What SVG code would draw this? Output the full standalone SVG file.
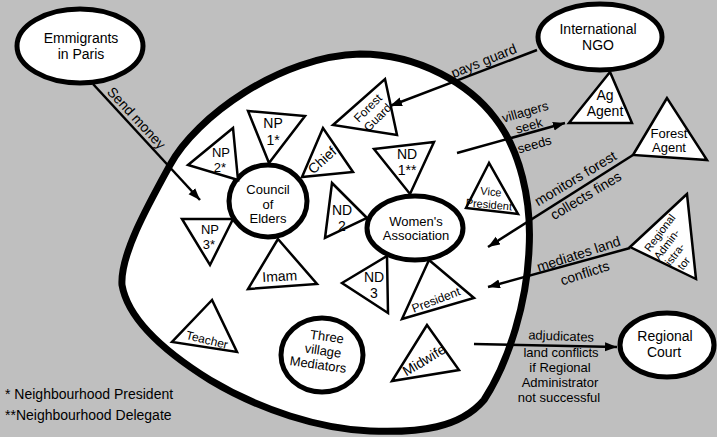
<svg xmlns="http://www.w3.org/2000/svg" width="717" height="437" viewBox="0 0 717 437">
<defs>
<marker id="ah" markerUnits="userSpaceOnUse" markerWidth="13" markerHeight="10" refX="12" refY="4.5" orient="auto">
<path d="M0,0 L12,4.5 L0,9 Z" fill="#000"/>
</marker>
</defs>
<style>
.t{font-family:"Liberation Sans",Arial,sans-serif;font-size:14px;text-anchor:middle;fill:#000}
.m{font-size:13px}
.s{font-size:12px}
.xs{font-size:11px}
.e{fill:#fff;stroke:#000;stroke-width:5}
.tri{fill:#fff;stroke:#000;stroke-width:2.5;stroke-linejoin:miter}
.c{fill:none;stroke:#000;stroke-width:2.5}
.n{font-family:"Liberation Sans",Arial,sans-serif;font-size:14px;fill:#000}
</style>
<rect width="717" height="437" fill="#bfbfbf"/>

<g id="village">
<path d="M360,54 C420,54 470,85 495,118 C520,150 532,200 529,250 C527,300 510,360 484,400 C460,428 420,433 370,431 C320,429 260,410 210,380 C165,352 128,320 122,285 C120,255 148,205 170,165 C196,117 280,56 360,54 Z" fill="#fff" stroke="#000" stroke-width="7"/>
</g>

<g id="connectors">
<line class="c" x1="93" y1="84" x2="200" y2="200" marker-end="url(#ah)"/>
<line class="c" x1="537" y1="50" x2="390" y2="106" marker-end="url(#ah)"/>
<line class="c" x1="457" y1="153" x2="565" y2="123" marker-end="url(#ah)"/>
<line class="c" x1="633" y1="155" x2="488" y2="247" marker-end="url(#ah)"/>
<line class="c" x1="630" y1="248" x2="488" y2="287" marker-end="url(#ah)"/>
<line class="c" x1="474" y1="344" x2="617" y2="347" marker-end="url(#ah)"/>
<text class="t" transform="translate(130,124) rotate(47.3)" y="-4">Send money</text>
<text class="t" transform="translate(487,69) rotate(-22)" y="-4">pays guard</text>
<g transform="translate(531,132.4) rotate(-16)">
<text class="t m" y="-17">villagers</text>
<text class="t m" y="-2.5">seek</text>
<text class="t m" y="17">seeds</text>
</g>
<g transform="translate(580,186) rotate(-31)">
<text class="t" y="-4">monitors forest</text>
<text class="t" y="16">collects fines</text>
</g>
<g transform="translate(581,261.5) rotate(-18)">
<text class="t" y="-3">mediates land</text>
<text class="t" y="17">conflicts</text>
</g>
<text class="t m" transform="translate(561,340.5) rotate(2)">adjudicates</text>
<text class="t m" x="561" y="357">land conflicts</text>
<text class="t m" x="560" y="372">if Regional</text>
<text class="t m" x="560" y="387">Administrator</text>
<text class="t m" x="559" y="402">not successful</text>
</g>

<g id="emmigrants">
<ellipse class="e" cx="80" cy="46" rx="63" ry="37"/>
<text class="t" x="81" y="42.5">Emmigrants</text>
<text class="t" x="81" y="58.5">in Paris</text>
</g>
<g id="ngo">
<ellipse class="e" cx="600" cy="37" rx="62" ry="33"/>
<text class="t" x="598" y="34">International</text>
<text class="t" x="598" y="50">NGO</text>
</g>
<g id="court">
<ellipse class="e" cx="667" cy="345" rx="47" ry="32"/>
<text class="t" x="665" y="341">Regional</text>
<text class="t" x="664" y="357">Court</text>
</g>

<g id="ag-agent">
<polygon class="tri" points="610,72 569,123 632,123"/>
<text class="t" x="605" y="100">Ag</text>
<text class="t" x="605" y="116">Agent</text>
</g>
<g id="forest-agent">
<polygon class="tri" points="667,98 633,155 707,160"/>
<text class="t m" x="669" y="137.5">Forest</text>
<text class="t m" x="669" y="152">Agent</text>
</g>
<g id="regional-admin">
<polygon class="tri" points="687,194 630,247 696,279"/>
<g transform="translate(660,233) rotate(-53)">
<text class="t xs" x="0" y="3.5">Regional</text>
<text class="t xs" x="-5" y="16">Admin-</text>
<text class="t xs" x="-8" y="28.5">istra-</text>
<text class="t xs" x="-10" y="41">tor</text>
</g>
</g>

<g id="council">
<ellipse class="e" cx="268" cy="201" rx="39" ry="36"/>
<text class="t m" x="268" y="194">Council</text>
<text class="t m" x="268" y="208.5">of</text>
<text class="t m" x="268" y="223">Elders</text>
</g>
<g id="np1">
<polygon class="tri" points="248,111 305,116 269,163"/>
<text class="t" x="273" y="128">NP</text>
<text class="t" x="273" y="145">1*</text>
</g>
<g id="np2">
<polygon class="tri" points="188,165 233,128 238,180"/>
<text class="t m" x="221" y="157">NP</text>
<text class="t m" x="220" y="172">2*</text>
</g>
<g id="np3">
<polygon class="tri" points="182,219 233,219 210,265"/>
<text class="t m" x="210" y="234">NP</text>
<text class="t m" x="209" y="249">3*</text>
</g>
<g id="chief">
<polygon class="tri" points="323,128 302,177 353,172"/>
<text class="t" transform="translate(322,160) rotate(-42)" y="5">Chief</text>
</g>
<g id="imam">
<polygon class="tri" points="278,239 248,289 317,284"/>
<text class="t" transform="translate(280,281) rotate(-3)">Imam</text>
</g>
<g id="teacher">
<polygon class="tri" points="212,300 172,342 237,352"/>
<text class="t s" transform="translate(207,340) rotate(14)" y="4">Teacher</text>
</g>
<g id="mediators">
<ellipse class="e" cx="322" cy="355" rx="41" ry="37" stroke-width="4.5"/>
<g transform="translate(322,351) rotate(8)">
<text class="t m" x="3" y="-10.5">Three</text>
<text class="t m" x="1" y="4">village</text>
<text class="t m" x="-2" y="18.5">Mediators</text>
</g>
</g>
<g id="forest-guard">
<polygon class="tri" points="333,125 385,79 397,135"/>
<g transform="translate(373,113) rotate(-45)">
<text class="t s" y="-3">Forest</text>
<text class="t s" y="10.5">Guard</text>
</g>
</g>

<g id="womens">
<ellipse class="e" cx="415" cy="228" rx="48" ry="32"/>
<text class="t m" x="416" y="225.5">Women's</text>
<text class="t m" x="416" y="240">Association</text>
</g>
<g id="nd1">
<polygon class="tri" points="374,149 434,142 410,194"/>
<text class="t" x="407" y="159">ND</text>
<text class="t" x="407" y="175">1**</text>
</g>
<g id="nd2">
<polygon class="tri" points="332,183 367,218 325,238"/>
<text class="t" x="342" y="215">ND</text>
<text class="t" x="342" y="230.5">2</text>
</g>
<g id="nd3">
<polygon class="tri" points="342,283 387,256 388,313"/>
<text class="t" x="374" y="282">ND</text>
<text class="t" x="374" y="297.5">3</text>
</g>
<g id="vice-president">
<polygon class="tri" points="489,163 466,208 518,214"/>
<g transform="translate(490,203) rotate(5)">
<text class="t xs" y="-7.5">Vice</text>
<text class="t xs" x="-1" y="5.5">President</text>
</g>
</g>
<g id="president">
<polygon class="tri" points="429,260 474,298 402,319"/>
<text class="t s" transform="translate(436,300) rotate(-21)" y="4">President</text>
</g>
<g id="midwife">
<polygon class="tri" points="427,325 392,381 459,370"/>
<text class="t" transform="translate(424,360) rotate(-31)" y="5">Midwife</text>
</g>

<g id="legend">
<text class="n" x="5" y="399">* Neighbourhood President</text>
<text class="n" x="5" y="420">**Neighbourhood Delegate</text>
</g>
</svg>
